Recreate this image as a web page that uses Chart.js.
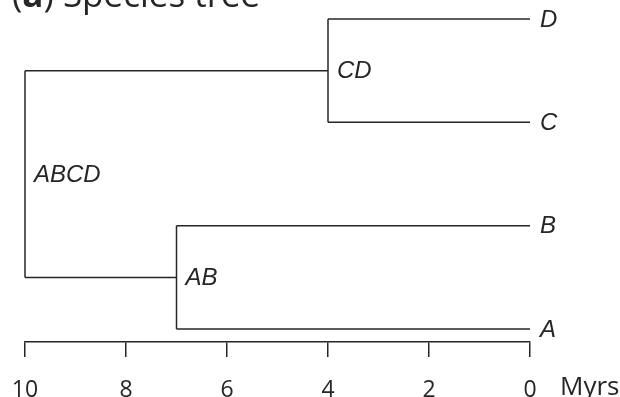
<!DOCTYPE html>
<html>
<head>
<meta charset="utf-8">
<script src="https://cdn.jsdelivr.net/npm/chart.js@4/dist/chart.umd.min.js"></script>
<style>
  html, body { margin: 0; padding: 0; background: #fff; }
  #wrap { width: 620px; height: 397px; position: relative; }
</style>
</head>
<body>
<div id="wrap"><canvas id="c"></canvas></div>
<script>
// Tips of the species tree (present day, age 0) and their vertical slots
const tipNames = ['A', 'B', 'C', 'D'];
const tipSlot = [0, 1, 2, 3];

// Internal nodes: name, divergence age (Myrs ago) and the two children
const nodeNames = ['AB', 'CD', 'ABCD'];
const nodeAge = [7, 4, 10];
const nodeChildren = [['A', 'B'], ['C', 'D'], ['AB', 'CD']];

// Time axis ticks
const tickValues = [10, 8, 6, 4, 2, 0];
const axisUnit = 'Myrs';
const titleParts = [['(', false], ['a', true], [') Species tree', false]];

const ink = '#262626';

// position (slot) and age of every named node
const slotOf = {}, ageOf = {};
tipNames.forEach((n, i) => { slotOf[n] = tipSlot[i]; ageOf[n] = 0; });
nodeNames.forEach((n, i) => {
  const [a, b] = nodeChildren[i];
  slotOf[n] = (slotOf[a] + slotOf[b]) / 2;
  ageOf[n] = nodeAge[i];
});

// one line dataset per branch segment
const segments = [];
nodeNames.forEach((n, i) => {
  const [a, b] = nodeChildren[i];
  segments.push([{x: ageOf[n], y: slotOf[a]}, {x: ageOf[n], y: slotOf[b]}]);
  [a, b].forEach(ch => segments.push([{x: ageOf[n], y: slotOf[ch]}, {x: ageOf[ch], y: slotOf[ch]}]));
});

const datasets = segments.map(seg => ({
  data: seg,
  showLine: true,
  borderColor: ink,
  borderWidth: 1.5,
  pointRadius: 0,
  clip: false
}));

const labelPlugin = {
  id: 'treeLabels',
  afterDraw(chart) {
    const ctx = chart.ctx, xs = chart.scales.x, ys = chart.scales.y;
    ctx.save();
    ctx.fillStyle = ink;
    ctx.textBaseline = 'middle';
    ctx.textAlign = 'left';
    ctx.font = 'italic 24px "Liberation Sans", Arial, sans-serif';
    tipNames.forEach((n, i) => {
      ctx.fillText(n, xs.getPixelForValue(0) + 10, ys.getPixelForValue(tipSlot[i]) + 1);
    });
    nodeNames.forEach((n, i) => {
      ctx.fillText(n, xs.getPixelForValue(nodeAge[i]) + 9, ys.getPixelForValue(slotOf[n]) + 1);
    });
    // unit label after the axis
    ctx.textBaseline = 'alphabetic';
    ctx.font = '26px "Open Sans", sans-serif';
    ctx.fillText(axisUnit, 560, 395);
    // panel title
    let x = 12;
    titleParts.forEach(([t, bold]) => {
      ctx.font = (bold ? 'bold ' : '') + '35px "Open Sans", sans-serif';
      ctx.fillText(t, x, 7);
      x += ctx.measureText(t).width;
    });
    ctx.restore();
  }
};

new Chart(document.getElementById('c'), {
  type: 'scatter',
  data: { datasets },
  options: {
    responsive: true,
    maintainAspectRatio: false,
    animation: false,
    layout: { padding: { left: 25, right: 90, top: 19, bottom: 0 } },
    plugins: { legend: { display: false }, tooltip: { enabled: false } },
    scales: {
      x: {
        type: 'linear',
        reverse: true,
        min: 0,
        max: 10,
        afterBuildTicks(scale) { scale.ticks = tickValues.map(v => ({ value: v })); },
        afterFit(scale) { scale.height = 55; scale.paddingLeft = 0; scale.paddingRight = 0; },
        border: { display: true, color: ink, width: 1.5 },
        grid: { drawOnChartArea: false, drawTicks: true, tickLength: 15, color: ink, lineWidth: 1.5 },
        ticks: {
          color: ink,
          padding: 20,
          maxRotation: 0,
          autoSkip: false,
          font: { family: '"Open Sans", sans-serif', size: 23 }
        }
      },
      y: {
        type: 'linear',
        display: false,
        min: -0.125,
        max: 3
      }
    }
  },
  plugins: [labelPlugin]
});
</script>
</body>
</html>
